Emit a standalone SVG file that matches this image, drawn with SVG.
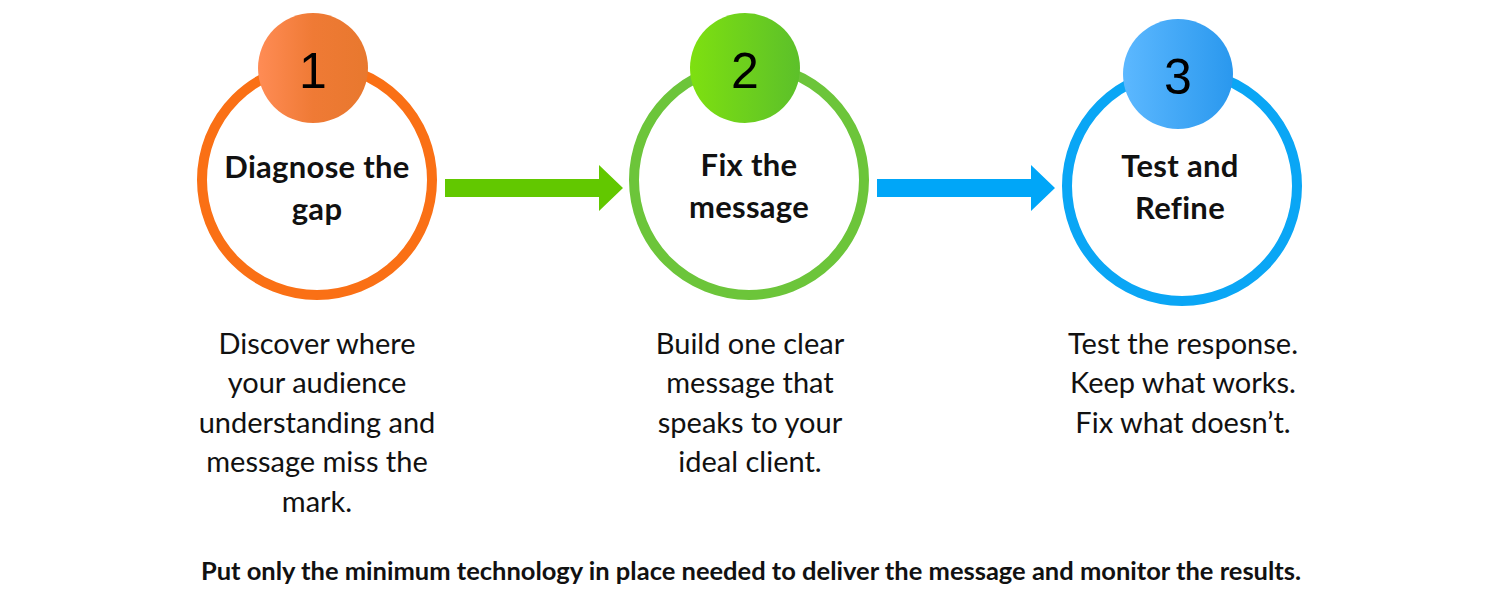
<svg xmlns="http://www.w3.org/2000/svg" width="1500" height="600" viewBox="0 0 1500 600">
<style>
.ring{fill:#fff;stroke-width:10}
.num{font-family:"Liberation Sans",Arial,sans-serif;font-size:50px;fill:#000;text-anchor:middle}
.title{font-family:Lato,"Liberation Sans",sans-serif;font-weight:bold;font-size:31px;fill:#111;text-anchor:middle;letter-spacing:0.3px}
.desc{font-family:Lato,"Liberation Sans",sans-serif;font-size:29px;fill:#111;text-anchor:middle}
.foot{font-family:Lato,"Liberation Sans",sans-serif;font-weight:bold;font-size:25.5px;fill:#111;text-anchor:middle}
</style>
<defs>
<linearGradient id="g1" x1="0" x2="1"><stop offset="0" stop-color="#ff8c55"/><stop offset="0.5" stop-color="#ef7a35"/><stop offset="1" stop-color="#e8782e"/></linearGradient>
<linearGradient id="g2" x1="0" x2="1"><stop offset="0" stop-color="#7ee010"/><stop offset="1" stop-color="#5cc02a"/></linearGradient>
<linearGradient id="g3" x1="0" x2="1"><stop offset="0" stop-color="#5cb8ff"/><stop offset="1" stop-color="#2a98ee"/></linearGradient>
</defs>
<g id="connectors">
<polygon fill="#62c800" points="445,179 599,179 599,165 623,188 599,211 599,197 445,197"/>
<polygon fill="#00a6f8" points="877,179 1031,179 1031,165 1055,188 1031,211 1031,197 877,197"/>
</g>
<g id="step1">
<circle class="ring" cx="317" cy="180" r="115" stroke="#fa7015"/>
<circle cx="313" cy="68" r="55" fill="url(#g1)"/>
<text class="num" x="313" y="88">1</text>
<text class="title" x="317" y="178">Diagnose the</text>
<text class="title" x="317" y="220">gap</text>
<text class="desc" x="317" y="354">Discover where</text>
<text class="desc" x="317" y="393">your audience</text>
<text class="desc" x="317" y="433">understanding and</text>
<text class="desc" x="317" y="472">message miss the</text>
<text class="desc" x="317" y="512">mark.</text>
</g>
<g id="step2">
<circle class="ring" cx="749" cy="180" r="115" stroke="#6cc53a"/>
<circle cx="745" cy="68" r="55" fill="url(#g2)"/>
<text class="num" x="745" y="88">2</text>
<text class="title" x="749" y="176">Fix the</text>
<text class="title" x="749" y="218">message</text>
<text class="desc" x="750" y="354">Build one clear</text>
<text class="desc" x="750" y="393">message that</text>
<text class="desc" x="750" y="433">speaks to your</text>
<text class="desc" x="750" y="472">ideal client.</text>
</g>
<g id="step3">
<circle class="ring" cx="1182" cy="186" r="115" stroke="#0aa6f5"/>
<circle cx="1178" cy="74" r="55" fill="url(#g3)"/>
<text class="num" x="1178" y="94">3</text>
<text class="title" x="1180" y="177">Test and</text>
<text class="title" x="1180" y="219">Refine</text>
<text class="desc" x="1183" y="354">Test the response.</text>
<text class="desc" x="1183" y="393">Keep what works.</text>
<text class="desc" x="1183" y="433">Fix what doesn’t.</text>
</g>
<text class="foot" x="751" y="580">Put only the minimum technology in place needed to deliver the message and monitor the results.</text>
</svg>
